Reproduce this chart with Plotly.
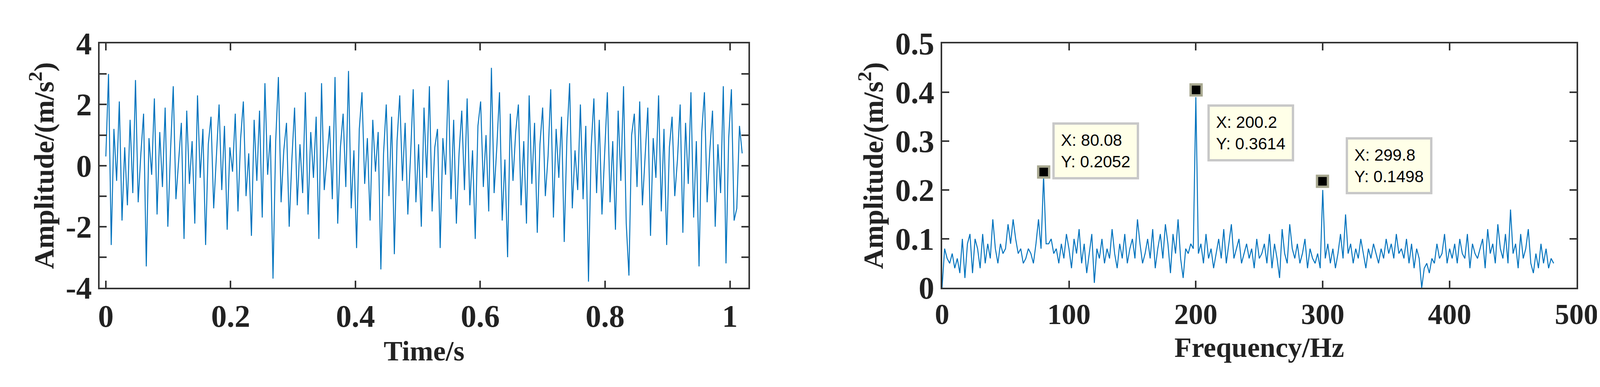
import numpy as np
import plotly.graph_objects as go
from plotly.subplots import make_subplots

# Time-domain signal
amp = [0.3,3.0,-2.6,1.2,-0.5,2.1,-1.8,0.6,-1.3,1.5,-0.9,2.8,-1.2,0.4,1.7,-3.3,0.9,-0.3,2.2,-1.6,
       1.1,-0.7,1.9,-2.0,0.5,2.6,-1.1,0.2,1.4,-2.4,1.8,-0.6,0.8,-1.9,2.3,-0.4,1.2,-2.6,0.7,1.6,
       -1.4,0.3,2.0,-0.8,1.3,-2.1,0.6,-0.2,1.7,-1.5,0.9,2.1,-1.0,0.4,-2.3,1.5,-0.5,1.8,-1.7,2.7,
       -0.3,1.0,-3.7,0.8,2.9,-1.2,0.5,1.4,-2.0,0.2,1.9,-1.3,0.7,-0.9,2.4,-1.6,1.1,-0.4,1.6,-2.4,
       2.7,-0.8,0.3,1.3,-1.1,2.9,-1.9,0.6,1.7,-0.7,3.1,-1.4,0.5,-2.7,1.2,2.4,-0.6,0.9,-1.8,1.5,
       -0.2,1.1,-3.4,0.4,2.0,-1.0,1.6,-2.9,0.8,2.3,-0.5,1.4,-1.6,0.3,2.5,-1.2,0.7,-2.0,1.9,-0.4,
       2.6,-1.5,0.6,1.2,-2.7,0.9,-0.3,2.8,-1.1,1.5,-1.9,0.4,1.8,-0.8,2.2,-1.3,0.5,-2.4,1.3,2.1,
       -0.7,1.0,-1.5,3.2,-0.9,0.6,2.4,-1.8,0.2,-3.0,1.7,-0.5,1.1,2.0,-1.3,0.8,-1.9,2.3,-0.6,1.4,
       -2.2,0.7,1.9,-1.0,0.3,2.5,-1.7,1.2,-0.4,1.6,-2.5,0.9,2.7,-1.4,0.5,-0.8,2.0,-1.1,1.3,-3.8,
       0.6,2.2,-0.9,1.5,-1.6,0.4,2.4,-1.2,0.8,-2.1,1.8,-0.5,2.6,-1.9,-3.6,1.0,1.7,-0.7,2.1,-1.3,
       0.3,1.9,-2.3,0.9,-0.4,2.3,-1.5,1.2,-2.6,0.6,1.6,-1.0,0.2,2.0,-2.2,1.4,-0.6,2.4,-1.7,0.8,
       -3.3,1.1,2.4,-1.2,0.5,1.8,-2.0,0.7,-0.9,2.6,-3.2,0.9,2.5,-1.8,-1.4,1.3,0.4]

# Spectrum
spec = [0.0,0.08,0.06,0.05,0.07,0.04,0.06,0.03,0.10,0.02,0.09,0.11,0.03,0.10,0.08,0.04,0.11,0.05,0.09,0.06,
        0.14,0.08,0.05,0.09,0.07,0.08,0.13,0.09,0.14,0.10,0.07,0.08,0.05,0.06,0.08,0.07,0.05,0.09,0.14,0.08,
        0.23,0.09,0.09,0.10,0.07,0.08,0.05,0.09,0.06,0.11,0.08,0.04,0.10,0.07,0.12,0.05,0.09,0.03,0.07,0.11,
        0.01,0.08,0.06,0.10,0.05,0.08,0.06,0.12,0.07,0.04,0.09,0.06,0.11,0.05,0.08,0.10,0.06,0.14,0.09,0.05,
        0.07,0.10,0.06,0.12,0.04,0.08,0.11,0.06,0.13,0.09,0.03,0.11,0.07,0.14,0.06,0.02,0.08,0.07,0.09,0.08,
        0.39,0.07,0.09,0.05,0.11,0.06,0.08,0.04,0.07,0.10,0.06,0.12,0.05,0.09,0.13,0.06,0.08,0.10,0.05,0.07,
        0.09,0.06,0.08,0.04,0.10,0.06,0.07,0.09,0.05,0.11,0.04,0.09,0.06,0.02,0.12,0.07,0.05,0.13,0.08,0.06,
        0.09,0.05,0.07,0.10,0.04,0.08,0.06,0.05,0.07,0.04,0.20,0.06,0.09,0.05,0.08,0.04,0.07,0.11,0.06,0.15,
        0.07,0.09,0.05,0.08,0.06,0.10,0.07,0.04,0.08,0.06,0.09,0.07,0.05,0.08,0.06,0.10,0.07,0.09,0.06,0.11,
        0.07,0.08,0.06,0.10,0.05,0.09,0.04,0.08,0.06,0.0,0.04,0.05,0.03,0.06,0.05,0.09,0.06,0.07,0.11,0.05,
        0.08,0.06,0.09,0.05,0.10,0.07,0.06,0.11,0.04,0.09,0.07,0.06,0.08,0.10,0.04,0.12,0.07,0.09,0.05,0.13,
        0.08,0.06,0.11,0.05,0.16,0.07,0.09,0.04,0.11,0.06,0.08,0.12,0.05,0.03,0.07,0.04,0.09,0.05,0.08,0.04,
        0.06,0.05]
dt = 1.024 / len(amp)
df = 2.0

peak_x = [80.08, 200.2, 299.8]
peak_marker_y = [0.237, 0.405, 0.218]
peak_y_label = [0.2052, 0.3614, 0.1498]
box_x = [87, 209, 318]
box_y = [0.28, 0.317, 0.25]

t = np.arange(len(amp)) * dt
f = np.arange(len(spec)) * df

FONT = "Liberation Serif"
BLUE = "#0072bd"

fig = make_subplots(rows=1, cols=2)
fig.add_trace(go.Scatter(x=t, y=amp, mode="lines", line=dict(color=BLUE, width=2.5)), 1, 1)
fig.add_trace(go.Scatter(x=f, y=spec, mode="lines", line=dict(color=BLUE, width=2.5)), 1, 2)
fig.add_trace(go.Scatter(x=peak_x, y=peak_marker_y, mode="markers",
                         marker=dict(symbol="square", size=28, color="black",
                                     line=dict(color="#a8a890", width=6))), 1, 2)

for px, py, bx, by in zip(peak_x, peak_y_label, box_x, box_y):
    fig.add_annotation(x=bx, y=by, xref="x2", yref="y2", xanchor="left", yanchor="middle",
                       text=f"X: {px:g}<br>Y: {py:.4f}", showarrow=False, align="left",
                       font=dict(family="Liberation Sans Narrow, Liberation Sans", size=42, color="black"),
                       bgcolor="#ffffe8", bordercolor="#c8c8c8", borderwidth=6, borderpad=16)

fig.update_layout(
    width=4244, height=990, showlegend=False, autosize=False,
    paper_bgcolor="white", plot_bgcolor="white",
    margin=dict(l=0, r=0, t=0, b=0),
    font=dict(family=FONT, size=80, color="#222"),
)
axcommon = dict(showgrid=False, zeroline=False, showline=True, linecolor="#333", linewidth=4,
                mirror="ticks", ticks="inside", ticklen=18, tickwidth=4, tickcolor="#333",
                tickfont=dict(family=FONT, size=80, color="#222"))
fig.update_xaxes(**axcommon)
fig.update_yaxes(**axcommon)

fig.update_xaxes(domain=[232/4244, 1923/4244], range=[-0.01, 1.03],
                 tickvals=[0, 0.2, 0.4, 0.6, 0.8, 1.0],
                 ticktext=["<b>0</b>", "<b>0.2</b>", "<b>0.4</b>", "<b>0.6</b>", "<b>0.8</b>", "<b>1</b>"],
                 title=dict(text="<b>Time/s</b>", font=dict(family=FONT, size=72), standoff=20), row=1, col=1)
fig.update_yaxes(domain=[1-752/990, 1-66/990], range=[-4, 4],
                 tickvals=[-4, -3, -2, -1, 0, 1, 2, 3, 4], ticktext=["<b>-4</b>", "", "<b>-2</b>", "", "<b>0</b>", "", "<b>2</b>", "", "<b>4</b>"],
                 title=dict(text="<b>Amplitude/(m/s<sup>2</sup>)</b>", font=dict(family=FONT, size=72), standoff=8), row=1, col=1)
fig.update_xaxes(domain=[2427/4244, 4080/4244], range=[0, 500],
                 tickvals=[0, 100, 200, 300, 400, 500], ticktext=["<b>%d</b>" % v for v in [0, 100, 200, 300, 400, 500]],
                 tickfont=dict(family=FONT, size=74, color="#222"),
                 title=dict(text="<b>Frequency/Hz</b>", font=dict(family=FONT, size=72), standoff=20), row=1, col=2)
fig.update_yaxes(domain=[1-752/990, 1-66/990], range=[0, 0.5],
                 tickvals=[0, 0.1, 0.2, 0.3, 0.4, 0.5], ticktext=["<b>0</b>", "<b>0.1</b>", "<b>0.2</b>", "<b>0.3</b>", "<b>0.4</b>", "<b>0.5</b>"],
                 title=dict(text="<b>Amplitude/(m/s<sup>2</sup>)</b>", font=dict(family=FONT, size=72), standoff=8), row=1, col=2)

fig.write_html("out.html")
